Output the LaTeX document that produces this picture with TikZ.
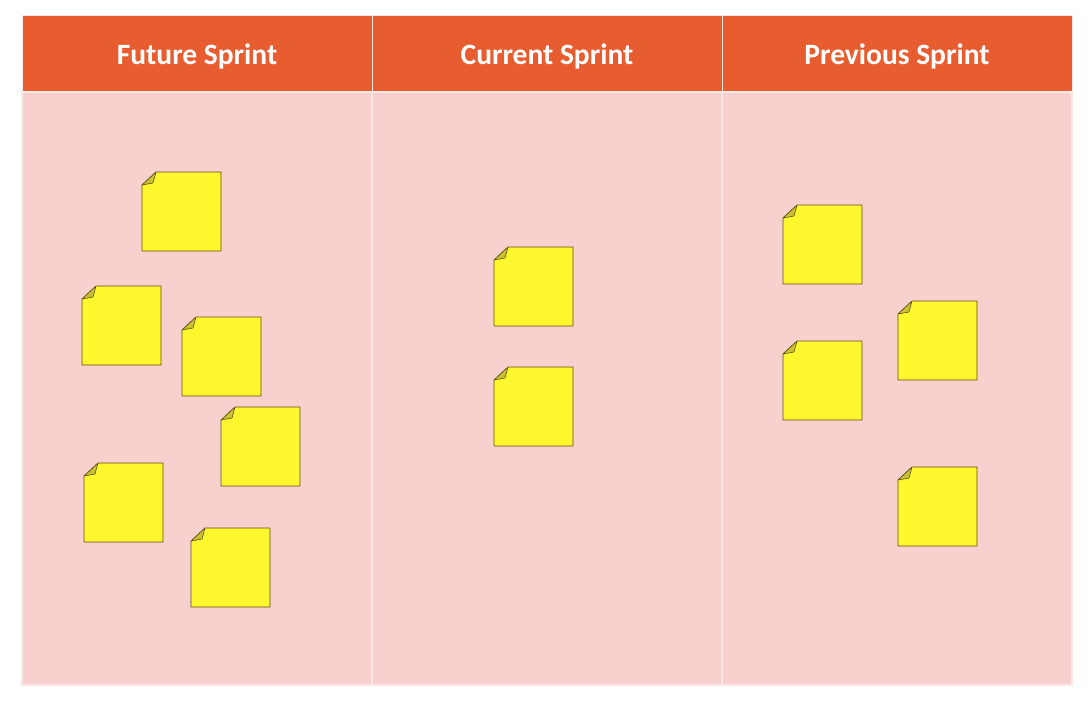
\documentclass[tikz,border=0pt]{standalone}
\usepackage{fontspec}
\setmainfont{Carlito}
\definecolor{hdr}{HTML}{E85D2F}
\definecolor{body}{HTML}{F8D1CF}
\definecolor{note}{HTML}{FFF72E}
\definecolor{notedraw}{HTML}{5E4F18}
\definecolor{fold}{HTML}{C9C033}
\definecolor{sep}{HTML}{FBE7E3}
\tikzset{
  hdrcell/.style={fill=hdr, draw=sep, line width=1pt},
  bodycell/.style={fill=body, draw=sep, line width=1.2pt},
  hdrtext/.style={text=white, font=\bfseries\fontsize{29.5}{34}\selectfont},
  notebody/.style={fill=note, draw=notedraw, line width=0.6pt, line join=round},
  notefold/.style={fill=fold, draw=notedraw, line width=0.6pt, line join=round},
}
% sticky note: #1 name, #2 = x, #3 = y (top-left corner)
\newcommand\stickynote[3]{%
  \coordinate (#1) at (#2,#3);
  \path[notebody] ($(#1)+(14,0)$) -- ($(#1)+(79,0)$) -- ($(#1)+(79,79)$) -- ($(#1)+(0,79)$) -- ($(#1)+(0,13)$) -- cycle;
  \path[notefold] ($(#1)+(14,0)$) -- ($(#1)+(0,13)$) -- ($(#1)+(11,11)$) -- cycle;
}
\usetikzlibrary{calc}
\begin{document}
\begin{tikzpicture}[x=1pt,y=-1pt]
\useasboundingbox (0,0) rectangle (1091,705);
\fill[white] (0,0) rectangle (1091,705);
% body cells
\path[bodycell] (22,92) rectangle (372,685);
\path[bodycell] (372,92) rectangle (722,685);
\path[bodycell] (722,92) rectangle (1072,685);
% header cells
\path[hdrcell] (22,15) rectangle (372,91);
\path[hdrcell] (372,15) rectangle (722,91);
\path[hdrcell] (722,15) rectangle (1072,91);
\node[hdrtext] (h1) at (197,56) {Future Sprint};
\node[hdrtext] (h2) at (547,56) {Current Sprint};
\node[hdrtext] (h3) at (897,56) {Previous Sprint};
% future sprint notes
\stickynote{f1}{142}{172}
\stickynote{f2}{82}{286}
\stickynote{f3}{182}{317}
\stickynote{f4}{221}{407}
\stickynote{f5}{84}{463}
\stickynote{f6}{191}{528}
% current sprint notes
\stickynote{c1}{494}{247}
\stickynote{c2}{494}{367}
% previous sprint notes
\stickynote{p1}{783}{205}
\stickynote{p2}{898}{301}
\stickynote{p3}{783}{341}
\stickynote{p4}{898}{467}
\end{tikzpicture}
\end{document}
